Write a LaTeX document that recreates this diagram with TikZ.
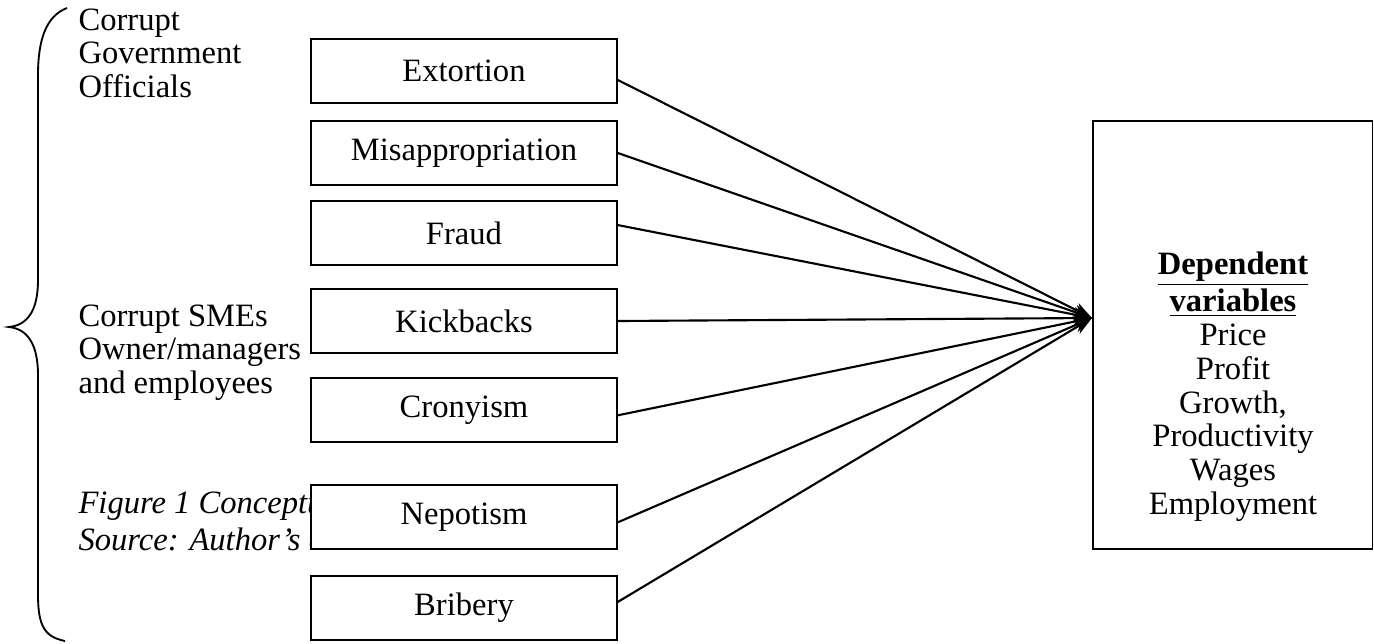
\documentclass[tikz,border=0pt]{standalone}
\usepackage{fontspec}
\setmainfont{Liberation Serif}
\usetikzlibrary{arrows.meta}

\begin{document}
\begin{tikzpicture}[x=0.3774pt,y=-0.3774pt,>={Stealth[length=7pt,width=5.5pt]},
    factor/.style={draw,line width=0.6pt,fill=white,minimum width=115.5pt,minimum height=24.2pt,inner sep=0pt,font=\fontsize{12.3}{13}\selectfont},
    actor/.style={anchor=north west,align=left,inner sep=0pt,font=\fontsize{12.3}{12.65}\selectfont}]
  \useasboundingbox (0,0) rectangle (1374,643);

  % brace round the two groups
  \draw[line width=0.7pt] (67,8) .. controls (46,16) and (38,40) .. (38,75) -- (38,280)
      .. controls (38,310) and (28,325) .. (9,327) .. controls (28,329) and (38,345) .. (38,375)
      -- (38,595) .. controls (38,628) and (46,637) .. (65,641);

  \node[actor] (gov) at (78,8) {Corrupt\\Government\\Officials};
  \node[actor] (sme) at (78,304) {Corrupt SMEs\\Owner/managers\\and employees};
  \begin{scope}
    \clip (0,470) rectangle (311,570);
    \node[actor,font=\fontsize{12.3}{14}\selectfont\itshape] (caption) at (78,490) {Figure 1 Conceptual\\Source: Author's c};
  \end{scope}

  \node[factor] (ext)  at (464,71)  {Extortion};
  \node[factor] (mis)  at (464,153) {Misappropriation};
  \node[factor] (fra)  at (464,233) {Fraud};
  \node[factor] (kick) at (464,321) {Kickbacks};
  \node[factor] (cro)  at (464,410) {Cronyism};
  \node[factor] (nep)  at (464,517) {Nepotism};
  \node[factor] (bri)  at (464,608) {Bribery};

  \node[draw,line width=0.6pt,minimum width=105.5pt,minimum height=161.5pt] (dep) at (1232.5,335) {};
  \node[align=center,anchor=north,inner sep=0pt,font=\fontsize{12.3}{12.75}\selectfont] (deplist) at (1233,251)
    {\underline{\textbf{Dependent}}\\\underline{\textbf{variables}}\\Price\\Profit\\Growth,\\Productivity\\Wages\\Employment};
  \coordinate (tip) at (dep.west |- 0,318);

  \draw[->,line width=0.8pt] ([yshift=-3.4pt]ext.east) -- (tip);
  \draw[->,line width=0.8pt] (mis.east) -- (tip);
  \draw[->,line width=0.8pt] ([yshift=3pt]fra.east) -- (tip);
  \draw[->,line width=0.8pt] (kick.east) -- (tip);
  \draw[->,line width=0.8pt] ([yshift=-2pt]cro.east) -- (tip);
  \draw[->,line width=0.8pt] ([yshift=-2pt]nep.east) -- (tip);
  \draw[->,line width=0.8pt] ([yshift=2.3pt]bri.east) -- (tip);
\end{tikzpicture}
\end{document}
